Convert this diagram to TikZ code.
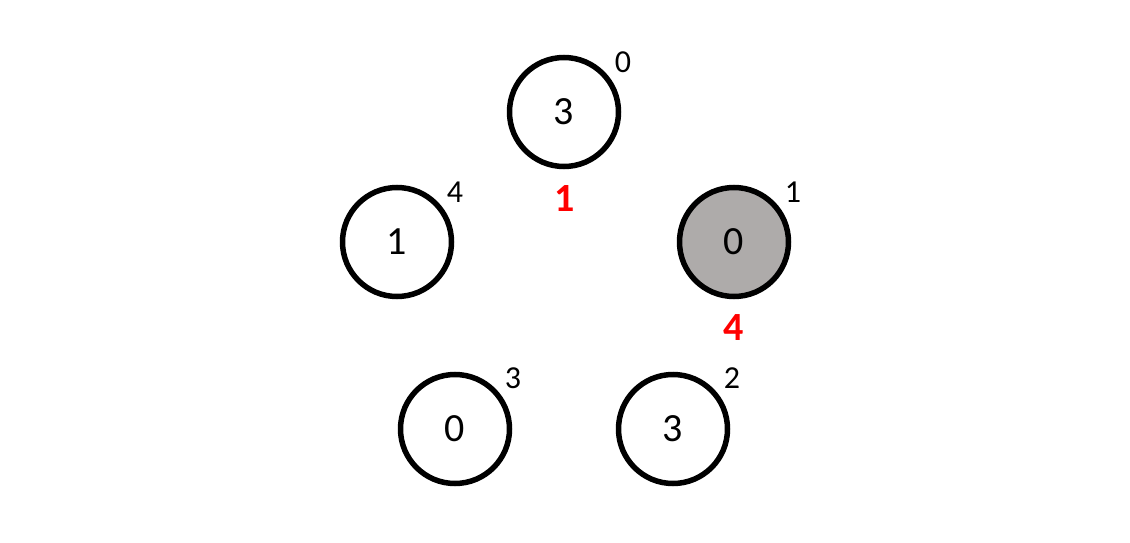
\documentclass[tikz,border=0pt]{standalone}
\usepackage{fontspec}
\setmainfont{Carlito}
\definecolor{nodegray}{RGB}{174,171,170}
\definecolor{lblred}{RGB}{255,0,0}
\begin{document}
\begin{tikzpicture}[x=1pt,y=-1pt,
  vtx/.style={circle,draw=black,line width=5.5pt,minimum size=109pt,inner sep=0pt,font=\fontsize{40}{42}\selectfont},
  idx/.style={font=\fontsize{32}{34}\selectfont,inner sep=0pt},
  red/.style={font=\fontsize{40}{42}\selectfont\bfseries,text=lblred,inner sep=0pt}]
\useasboundingbox (0,0) rectangle (1130,543);
\node[vtx] (a) at (564,112) {3};
\node[vtx] (b) at (397,242) {1};
\node[vtx,fill=nodegray] (c) at (734,242) {0};
\node[vtx] (d) at (455,429) {0};
\node[vtx] (e) at (673,429) {3};
\node[idx] (ia) at (623,62) {0};
\node[idx] (ib) at (455,192) {4};
\node[idx] (ic) at (793,192) {1};
\node[idx] (id) at (513,378) {3};
\node[idx] (ie) at (732,378) {2};
\node[red] (ra) at (565,199) {1};
\node[red] (rc) at (734,328) {4};
\end{tikzpicture}
\end{document}
